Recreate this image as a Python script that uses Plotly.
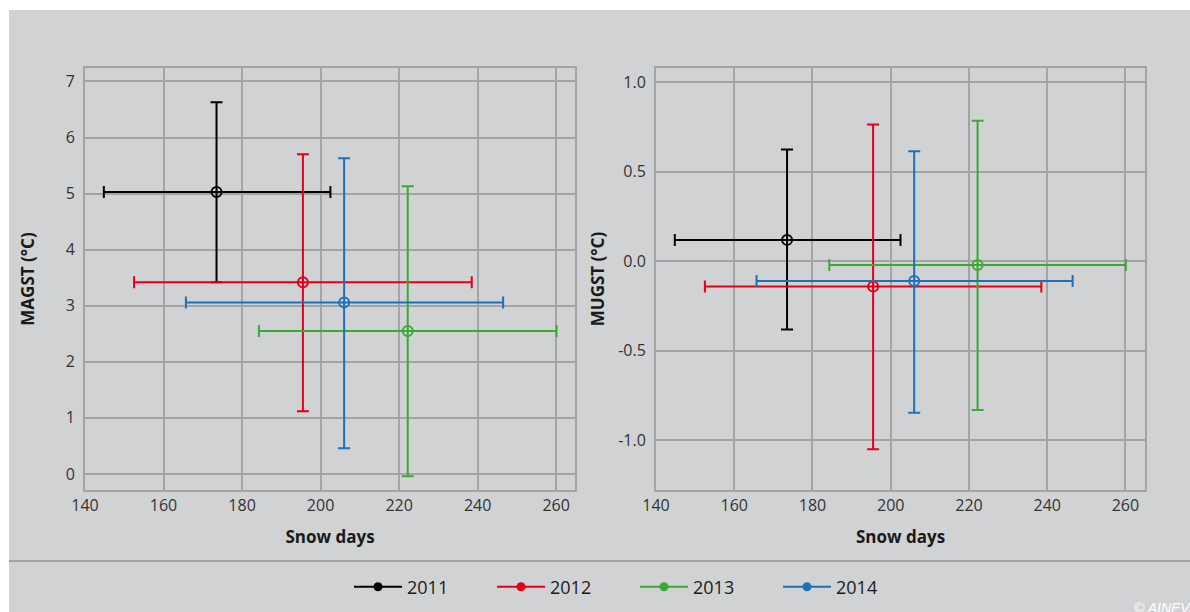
import plotly.graph_objects as go

years = ["2011", "2012", "2013", "2014"]
colors = ["#000000", "#e2001a", "#3aaa35", "#1d71b8"]

snow_days = [173.5, 195.5, 222.2, 206.0]
snow_err_minus = [28.7, 43.0, 37.9, 40.3]
snow_err_plus = [29.0, 43.0, 37.9, 40.5]

magst = [5.03, 3.42, 2.55, 3.06]
magst_err_plus = [1.60, 2.28, 2.58, 2.57]
magst_err_minus = [1.61, 2.30, 2.59, 2.60]

mugst = [0.12, -0.14, -0.02, -0.11]
mugst_err_plus = [0.505, 0.905, 0.805, 0.725]
mugst_err_minus = [0.50, 0.91, 0.81, 0.735]

x_ticks = [140, 160, 180, 200, 220, 240, 260]
y1_ticks = [0, 1, 2, 3, 4, 5, 6, 7]
y2_ticks = [-1.0, -0.5, 0.0, 0.5, 1.0]
y2_ticktext = ["-1.0", "-0.5", "0.0", "0.5", "1.0"]

BG = "#d1d2d4"
GRID = "#a3a4a6"
FONT = "Open Sans"

fig = go.Figure()

for i, yr in enumerate(years):
    common = dict(
        mode="markers",
        marker=dict(symbol="circle-open-dot", size=10, color=colors[i],
                    line=dict(width=2, color=colors[i])),
        error_x=dict(type="data", symmetric=False, array=[snow_err_plus[i]],
                     arrayminus=[snow_err_minus[i]], color=colors[i],
                     thickness=2, width=6),
        showlegend=False,
        name=yr,
    )
    fig.add_trace(go.Scatter(
        x=[snow_days[i]], y=[magst[i]], xaxis="x", yaxis="y",
        error_y=dict(type="data", symmetric=False, array=[magst_err_plus[i]],
                     arrayminus=[magst_err_minus[i]], color=colors[i],
                     thickness=2, width=6),
        **common))
    fig.add_trace(go.Scatter(
        x=[snow_days[i]], y=[mugst[i]], xaxis="x2", yaxis="y2",
        error_y=dict(type="data", symmetric=False, array=[mugst_err_plus[i]],
                     arrayminus=[mugst_err_minus[i]], color=colors[i],
                     thickness=2, width=6),
        **common))

for i, yr in enumerate(years):
    fig.add_trace(go.Scatter(
        x=[None], y=[None], mode="lines+markers", name=yr,
        line=dict(color=colors[i], width=2),
        marker=dict(symbol="circle", size=9, color=colors[i]),
        showlegend=True, xaxis="x", yaxis="y"))

base = dict(
    showgrid=True, gridcolor=GRID, gridwidth=1.5,
    showline=True, linecolor=GRID, linewidth=2, mirror=True,
    zeroline=False, ticks="", automargin=False,
    tickfont=dict(family=FONT, size=16, color="#333333"),
    title_font=dict(family=FONT, size=17, color="#1a1a1a"),
)
xcommon = dict(base, ticklabelstandoff=0)
ycommon = dict(base, ticklabelstandoff=5)

W, H = 1190, 612
# pixel positions in the screenshot (page has no body margin)
L, Rpx, T, Bpx = 85, 1145, 68, 490
pw = Rpx - L
ph = Bpx - T


def px_x(p):
    return (p - L) / pw


def px_y(p):
    return (Bpx - p) / ph


fig.update_layout(
    width=W, height=H,
    margin=dict(l=L, r=W - Rpx, t=T, b=H - Bpx, autoexpand=False),
    paper_bgcolor="white",
    plot_bgcolor=BG,
    hovermode=False,
    font=dict(family=FONT, color="#1a1a1a"),
    xaxis=dict(domain=[0, px_x(575)], range=[140, 264.8], tickvals=x_ticks,
               title=dict(text="<b>Snow days</b>", standoff=16), anchor="y",
               **xcommon),
    yaxis=dict(domain=[0, 1], range=[-0.286, 7.24], tickvals=y1_ticks,
               title=dict(text="<b>MAGST (°C)</b>", standoff=27), anchor="x",
               **ycommon),
    xaxis2=dict(domain=[px_x(656), 1], range=[140, 265], tickvals=x_ticks,
                title=dict(text="<b>Snow days</b>", standoff=16), anchor="y2",
                **xcommon),
    yaxis2=dict(domain=[0, 1], range=[-1.277, 1.08], tickvals=y2_ticks,
                ticktext=y2_ticktext,
                title=dict(text="<b>MUGST (°C)</b>", standoff=9), anchor="x2",
                **ycommon),
    legend=dict(orientation="h", xref="container", yref="container",
                x=349 / W, xanchor="left",
                y=1 - 587 / H, yanchor="middle",
                font=dict(family=FONT, size=18, color="#1a1a1a"),
                bgcolor="rgba(0,0,0,0)", itemwidth=48,
                entrywidth=80, entrywidthmode="pixels"),
    shapes=[
        dict(type="rect", xref="paper", yref="paper", layer="below",
             x0=px_x(9), x1=px_x(1240), y0=px_y(660), y1=px_y(10),
             fillcolor=BG, line=dict(width=0)),
        dict(type="line", xref="paper", yref="paper", layer="above",
             x0=px_x(9), x1=px_x(1240), y0=px_y(561), y1=px_y(561),
             line=dict(color="#a3a4a6", width=2)),
    ],
    annotations=[
        dict(text="<i>© AINEVA</i>", xref="paper", yref="paper",
             x=px_x(1132), y=px_y(608), xanchor="left", yanchor="middle",
             showarrow=False, font=dict(family="Liberation Sans", size=14,
                                        color="white")),
    ],
)

fig.write_html(
    "out.html",
    config={"displayModeBar": False},
    post_script="document.body.style.margin='0';"
                "document.body.style.overflow='hidden';",
)
